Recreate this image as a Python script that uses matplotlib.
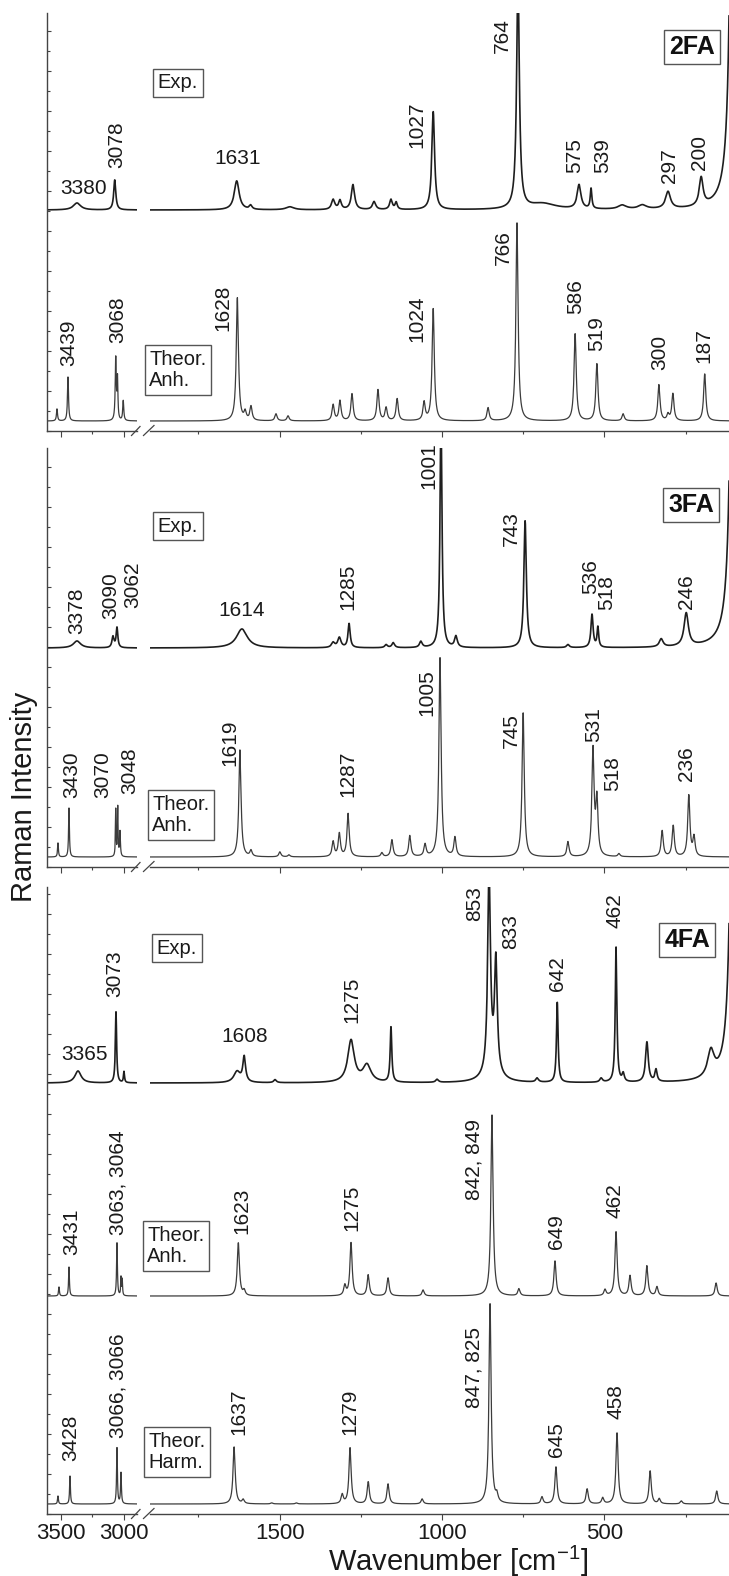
import numpy as np
import matplotlib
matplotlib.use('Agg')
import matplotlib.pyplot as plt
from matplotlib.ticker import MultipleLocator, FixedLocator
from matplotlib.lines import Line2D

plt.rcParams['font.family'] = ['Liberation Sans', 'DejaVu Sans']
plt.rcParams['mathtext.fontset'] = 'custom'
plt.rcParams['mathtext.rm'] = 'Liberation Sans'
plt.rcParams['mathtext.it'] = 'Liberation Sans:italic'

# ---------------- data: peaks (wavenumber, height, half-width) ----------------
FA2_EXP = [(3372, 7, 35), (3070, 30, 10),
           (1632, 29, 9), (1589, 4, 5), (1468, 3, 15),
           (1335, 10, 6), (1314, 9, 5), (1274, 25, 6), (1209, 8, 6), (1157, 10, 5), (1141, 7, 4),
           (1027, 98, 5), (766, 230, 5), (690, 6, 50), (578, 24, 7), (541, 20, 3),
           (445, 4, 15), (383, 4, 15), (304, 17, 9), (202, 28, 7), (100, 2240, 5)]
FA2_ANH = [(3532, 12, 5), (3444, 44, 5), (3062, 62, 5), (3048, 40, 4), (3002, 20, 5),
           (1630, 123, 4), (1606, 8, 4), (1588, 14, 4), (1511, 7, 4), (1474, 5, 4),
           (1335, 16, 4), (1314, 20, 4), (1277, 27, 4), (1197, 31, 4), (1172, 13, 4), (1138, 22, 4),
           (1055, 18, 4), (1027, 112, 4), (858, 13, 4), (769, 198, 4), (590, 87, 4), (523, 57, 4),
           (442, 7, 4), (332, 36, 4), (304, 6, 4), (289, 27, 4), (191, 47, 4)]
FA3_EXP = [(3372, 7, 35), (3084, 11, 10), (3052, 20, 8),
           (1616, 19, 20), (1335, 5, 6), (1316, 10, 6), (1286, 24, 4),
           (1172, 3, 5), (1150, 5, 5), (1065, 6, 5), (1003, 240, 3.5), (957, 11, 5),
           (744, 127, 4.5), (612, 3, 5), (538, 33, 4), (520, 20, 3), (325, 8, 7), (248, 33, 8),
           (100, 1065, 7)]
FA3_ANH = [(3524, 14, 4), (3436, 49, 4), (3062, 47, 3), (3046, 49, 3), (3028, 25, 4),
           (1622, 107, 4), (1588, 6, 4), (1499, 5, 4), (1471, 2, 4),
           (1335, 15, 4), (1316, 23, 4), (1289, 43, 4), (1185, 4, 4), (1154, 17, 4), (1099, 21, 4),
           (1052, 12, 4), (1006, 199, 4), (960, 19, 4), (750, 144, 4), (612, 15, 4),
           (535, 106, 4), (523, 55, 4), (455, 3, 4), (322, 26, 4), (288, 31, 4), (240, 61, 4), (224, 19, 4)]
FA4_EXP = [(3364, 12, 30), (3060, 71, 6), (2996, 11, 5),
           (1631, 11, 12), (1609, 25, 5), (1514, 3, 5), (1280, 42, 12), (1231, 17, 15),
           (1157, 55, 3), (1015, 3, 5), (855, 200, 5), (834, 110, 5), (845, 12, 25),
           (707, 4, 5), (645, 80, 3), (510, 4, 5), (464, 135, 3), (442, 8, 4),
           (369, 40, 5), (341, 12, 4), (172, 26, 12), (100, 1010, 7)]
FA4_ANH = [(3516, 9, 4), (3436, 29, 4), (3052, 53, 4), (3020, 18, 3), (3010, 16, 3),
           (1627, 53, 4), (1609, 5, 4), (1299, 10, 4), (1280, 53, 4), (1227, 21, 4),
           (1166, 18, 4), (1058, 6, 4), (846, 181, 4), (763, 7, 4), (652, 35, 4), (498, 6, 4),
           (464, 64, 4), (421, 20, 4), (369, 30, 4), (338, 9, 4), (156, 13, 4)]
FA4_HARM = [(3524, 8, 4), (3428, 28, 4), (3052, 56, 4), (3020, 31, 4),
            (1640, 57, 4), (1612, 4, 4), (1524, 1, 4), (1448, 1, 4), (1307, 9, 4), (1283, 56, 4),
            (1227, 22, 4), (1166, 20, 4), (1061, 5, 4), (852, 200, 4), (831, 7, 4), (692, 7, 4),
            (649, 37, 4), (553, 15, 4), (505, 6, 4), (461, 71, 4), (359, 33, 4), (331, 5, 4),
            (263, 3, 4), (154, 13, 4)]

# peak labels: (text, wavenumber, height above panel bottom, rotation)
FA2_LABELS = [('3380', 3316, 243, 0), ('3078', 3052, 286, 90), ('1631', 1628, 273, 0),
              ('1027', 1077, 306, 90), ('764', 815, 395, 90), ('575', 590, 275, 90),
              ('539', 504, 275, 90), ('297', 301, 265, 90), ('200', 206, 279, 90),
              ('3439', 3436, 88, 90), ('3068', 3044, 111, 90), ('1628', 1674, 123, 90),
              ('1024', 1077, 112, 90), ('766', 812, 183, 90), ('586', 587, 134, 90),
              ('519', 523, 97, 90), ('300', 329, 79, 90), ('187', 193, 85, 90)]
FA3_LABELS = [('3378', 3372, 256, 90), ('3090', 3100, 271, 90), ('3062', 2924, 282, 90),
              ('1614', 1616, 257, 0), ('1285', 1289, 280, 90), ('1001', 1040, 401, 90),
              ('743', 787, 338, 90), ('536', 541, 290, 90), ('518', 492, 274, 90),
              ('246', 246, 275, 90),
              ('3430', 3412, 92, 90), ('3070', 3164, 92, 90), ('3048', 2948, 96, 90),
              ('1619', 1652, 124, 90), ('1287', 1289, 93, 90), ('1005', 1046, 174, 90),
              ('745', 787, 136, 90), ('531', 532, 142, 90), ('518', 476, 93, 90),
              ('236', 246, 103, 90)]
FA4_LABELS = [('3365', 3308, 460, 0), ('3073', 3068, 540, 90), ('1608', 1607, 477, 0),
              ('1275', 1277, 514, 90), ('853', 901, 610, 90), ('833', 790, 582, 90),
              ('642', 643, 540, 90), ('462', 467, 603, 90),
              ('3431', 3412, 282, 90), ('3063, 3064', 3044, 331, 90), ('1623', 1616, 303, 90),
              ('1275', 1277, 306, 90), ('842, 849', 901, 355, 90), ('649', 646, 282, 90),
              ('462', 467, 313, 90),
              ('3428', 3420, 76, 90), ('3066, 3066', 3044, 128, 90), ('1637', 1625, 102, 90),
              ('1279', 1283, 102, 90), ('847, 825', 901, 146, 90), ('645', 646, 74, 90),
              ('458', 464, 112, 90)]

# ---------------- layout (figure pixels) ----------------
W, H = 729, 1576
fig = plt.figure(figsize=(W / 100, H / 100), dpi=100)

LEFT_X0, LEFT_X1 = 47, 137
RIGHT_X0 = 150
LEFT_LIM = (3612, 2892)
RIGHT_LIM = (1899, 116.3)

panels = [
    dict(tag='2FA', top=13, bottom=431, tagpos=(230, 384),
         spectra=[(FA2_EXP, 221, 'exp'), (FA2_ANH, 10, 'th')],
         boxes=[('Exp.', 1813, 348), ('Theor.\nAnh.', 1813, 61)], labels=FA2_LABELS),
    dict(tag='3FA', top=448, bottom=867, tagpos=(233, 362),
         spectra=[(FA3_EXP, 219, 'exp'), (FA3_ANH, 10, 'th')],
         boxes=[('Exp.', 1813, 341), ('Theor.\nAnh.', 1804, 52)], labels=FA3_LABELS),
    dict(tag='4FA', top=887, bottom=1514, tagpos=(245, 574),
         spectra=[(FA4_EXP, 431, 'exp'), (FA4_ANH, 218, 'th'), (FA4_HARM, 10, 'th')],
         boxes=[('Exp.', 1816, 566), ('Theor.\nAnh.', 1819, 268), ('Theor.\nHarm.', 1816, 62)],
         labels=FA4_LABELS),
]

gridL = np.arange(2880, 3625, 0.5)
gridR = np.arange(100, 1920, 0.25)


def spectrum(grid, peaks):
    y = np.zeros_like(grid)
    for w, h, g in peaks:
        y += h * g * g / ((grid - w) ** 2 + g * g)
    return y


spine_col = '#444444'
styles = {'exp': dict(color='#1e1e1e', lw=1.2), 'th': dict(color='#3c3c3c', lw=0.9)}

for i, p in enumerate(panels):
    last = (i == len(panels) - 1)
    hgt = p['bottom'] - p['top']
    yb = 1 - p['bottom'] / H
    axL = fig.add_axes([LEFT_X0 / W, yb, (LEFT_X1 - LEFT_X0) / W, hgt / H])
    axR = fig.add_axes([RIGHT_X0 / W, yb, (W - RIGHT_X0) / W, hgt / H])
    for ax, grid, lim in ((axL, gridL, LEFT_LIM), (axR, gridR, RIGHT_LIM)):
        for peaks, off, kind in p['spectra']:
            ax.plot(grid, off + spectrum(grid, peaks), **styles[kind])
        ax.set_xlim(*lim)
        ax.set_ylim(0, hgt)
        ax.patch.set_visible(False)
        for s in ('top', 'right'):
            ax.spines[s].set_visible(False)
        ax.spines['bottom'].set_color(spine_col)
        ax.spines['bottom'].set_linewidth(1.0)
        ax.tick_params(axis='x', which='major', direction='out', length=4, width=0.8,
                       color=spine_col, labelsize=16, pad=2.5, labelbottom=last,
                       labelcolor='#1a1a1a')
        ax.tick_params(axis='x', which='minor', direction='out', length=2.2, width=0.8,
                       color=spine_col)
    axR.spines['left'].set_visible(False)
    axR.tick_params(axis='y', which='both', left=False, labelleft=False)
    axL.spines['left'].set_color(spine_col)
    axL.spines['left'].set_linewidth(1.0)
    axL.yaxis.set_major_locator(MultipleLocator(40))
    axL.yaxis.set_minor_locator(MultipleLocator(20))
    axL.tick_params(axis='y', which='major', direction='in', length=3, width=0.8,
                    color=spine_col, labelleft=False)
    axL.tick_params(axis='y', which='minor', direction='in', length=1.8, width=0.8,
                    color=spine_col)
    axL.xaxis.set_major_locator(FixedLocator([3500, 3000]))
    axL.xaxis.set_minor_locator(FixedLocator([3250]))
    axR.xaxis.set_major_locator(MultipleLocator(500))
    axR.xaxis.set_minor_locator(MultipleLocator(250))

    # peak labels
    for txt, w, y, rot in p['labels']:
        ax = axL if w > 2500 else axR
        ax.text(w, y, txt, rotation=rot, ha='center', va='center', fontsize=15,
                color='#1a1a1a')
    # spectrum boxes
    for txt, w, y in p['boxes']:
        axR.text(w, y, txt, ha='center', va='center', fontsize=14.5, multialignment='left',
                 linespacing=1.15, color='#1a1a1a',
                 bbox=dict(boxstyle='square,pad=0.22', fc='white', ec='#555555', lw=1.0))
    # compound tag
    tx, ty = p['tagpos']
    axR.text(tx, ty, p['tag'], ha='center', va='center', fontsize=18, fontweight='bold',
             color='#111111',
             bbox=dict(boxstyle='square,pad=0.2', fc='white', ec='#555555', lw=1.0))

    # axis-break marks
    b = p['bottom']
    for (x0, y0, x1, y1) in ((131.5, b + 4.5, 140, b - 4.5), (143.5, b + 4.5, 154, b - 5.5)):
        fig.add_artist(Line2D([x0 / W, x1 / W], [1 - y0 / H, 1 - y1 / H],
                              transform=fig.transFigure, color=spine_col, lw=0.9))

fig.text(458 / W, 1 - 1571 / H, r'Wavenumber [cm$^{\mathrm{-1}}$]', ha='center', va='baseline',
         fontsize=21, color='#1a1a1a')
fig.text(24 / W, 1 - 797 / H, 'Raman Intensity', rotation=90, ha='center', va='center',
         fontsize=21, color='#1a1a1a')

fig.savefig('out.png', dpi=100, facecolor='white')
